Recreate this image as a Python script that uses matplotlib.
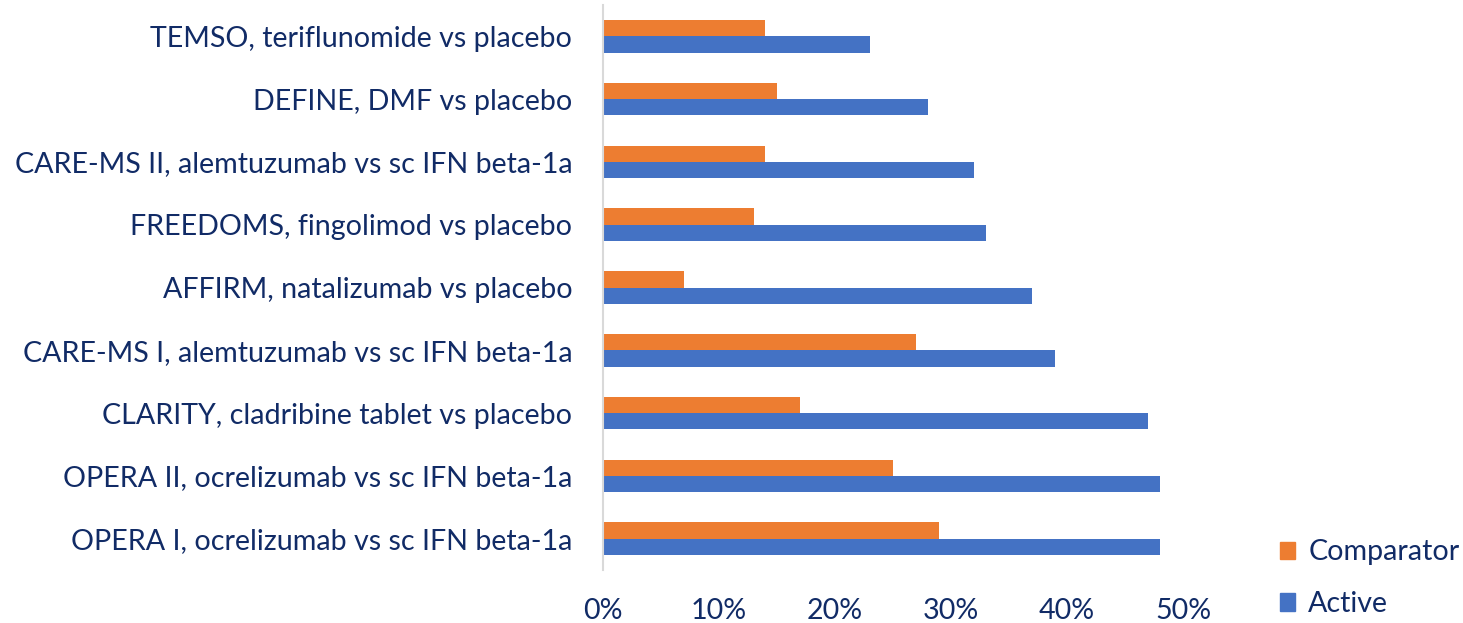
import matplotlib

matplotlib.use('Agg')
import matplotlib.pyplot as plt
from matplotlib.patches import Patch
from matplotlib.ticker import PercentFormatter

# bottom to top, as in the original chart
trials = [
    'OPERA I, ocrelizumab vs sc IFN beta-1a',
    'OPERA II, ocrelizumab vs sc IFN beta-1a',
    'CLARITY, cladribine tablet vs placebo',
    'CARE-MS I, alemtuzumab vs sc IFN beta-1a',
    'AFFIRM, natalizumab vs placebo',
    'FREEDOMS, fingolimod vs placebo',
    'CARE-MS II, alemtuzumab vs sc IFN beta-1a',
    'DEFINE, DMF vs placebo',
    'TEMSO, teriflunomide vs placebo',
]
active = [0.48, 0.48, 0.47, 0.39, 0.37, 0.33, 0.32, 0.28, 0.23]
comparator = [0.29, 0.25, 0.17, 0.27, 0.07, 0.13, 0.14, 0.15, 0.14]
x_ticks = [0, 0.1, 0.2, 0.3, 0.4, 0.5]

blue = '#4472C4'
orange = '#ED7D31'
navy = '#112B66'

plt.rcParams['font.family'] = ['Lato', 'DejaVu Sans']

fig = plt.figure(figsize=(14.63, 6.23), dpi=100)
ax = fig.add_axes([0.412, 0.085, 0.8086 - 0.412, 0.907])

h = 0.26
y = list(range(len(trials)))
ax.barh([v - h / 2 for v in y], active, height=h, color=blue)
ax.barh([v + h / 2 for v in y], comparator, height=h, color=orange)

ax.set_xlim(0, 0.5)
ax.set_ylim(-0.5, len(trials) - 0.5)
ax.set_xticks(x_ticks)
ax.xaxis.set_major_formatter(PercentFormatter(1.0, decimals=0))
ax.set_yticks(y)
ax.set_yticklabels(trials)
ax.tick_params(axis='both', length=0, labelsize=20.6, colors=navy)
ax.tick_params(axis='y', pad=22)
ax.tick_params(axis='x', pad=20)

for s in ['top', 'right', 'bottom']:
    ax.spines[s].set_visible(False)
ax.spines['left'].set_color('#D9D9D9')
ax.spines['left'].set_linewidth(1.5)

handles = [Patch(color=orange), Patch(color=blue)]
fig.legend(handles, ['Comparator', 'Active'], loc='center left',
           bbox_to_anchor=(0.857, 0.072), frameon=False, fontsize=20.6,
           labelcolor=navy, handlelength=0.55, handleheight=0.55,
           handletextpad=0.45, labelspacing=0.9)

fig.savefig('out.png', dpi=100)
